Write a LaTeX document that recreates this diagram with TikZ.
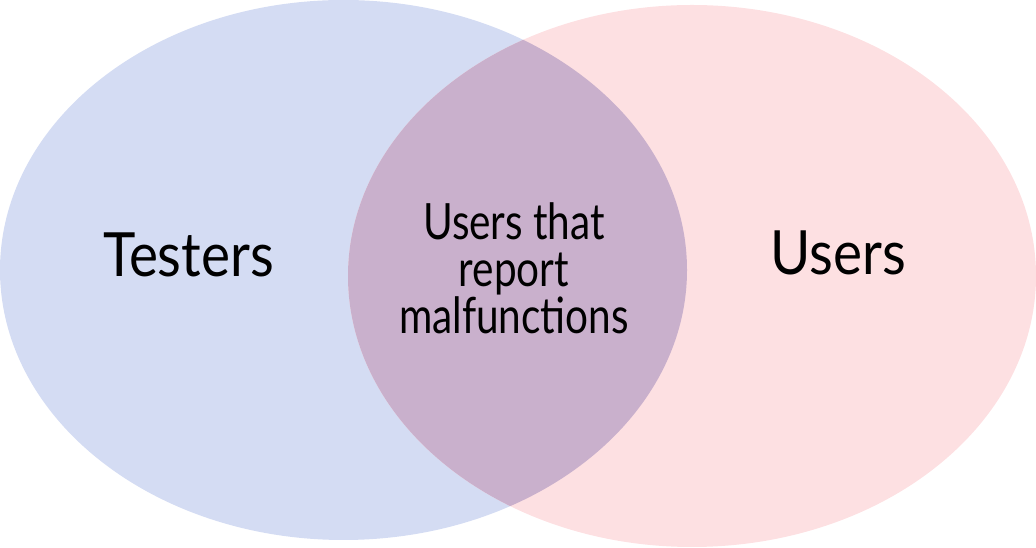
\documentclass[tikz,border=0pt]{standalone}
\usepackage{fontspec}
\setmainfont[FakeStretch=0.9]{Lato}
\newfontfamily\narrowfont[FakeStretch=0.81]{Lato}
\usetikzlibrary{shapes.geometric, positioning}
\definecolor{testerblue}{RGB}{212,220,243}
\definecolor{userpink}{RGB}{253,224,226}
\definecolor{overlap}{RGB}{201,176,204}
\tikzstyle{setshape} = [ellipse, inner sep=0pt]
\tikzstyle{biglabel} = [font=\fontsize{61}{70}\selectfont, anchor=base, inner sep=0pt]
\tikzstyle{midlabel} = [font=\narrowfont\fontsize{50}{47}\selectfont, align=center, anchor=base, inner sep=0pt]

\begin{document}
\begin{tikzpicture}[x=1pt, y=1pt]
\useasboundingbox (0,0) rectangle (1036,548);

% Sets
\node (testers) [setshape, fill=testerblue, minimum width=687pt, minimum height=540pt] at (343.5,278) {};
\node (users) [setshape, fill=userpink, minimum width=688pt, minimum height=542pt] at (692,272) {};

% Intersection
\begin{scope}
\clip (343.5,278) ellipse [x radius=343.5, y radius=270];
\fill[overlap] (692,272) ellipse [x radius=344, y radius=271];
\end{scope}

% Labels
\node (testerstext) [biglabel] at (188.5,271) {Testers};
\node (userstext) [biglabel] at (838,273) {Users};
\node (bothtext) [midlabel] at (514,214) {Users that\\report\\malfunctions};

\end{tikzpicture}
\end{document}
